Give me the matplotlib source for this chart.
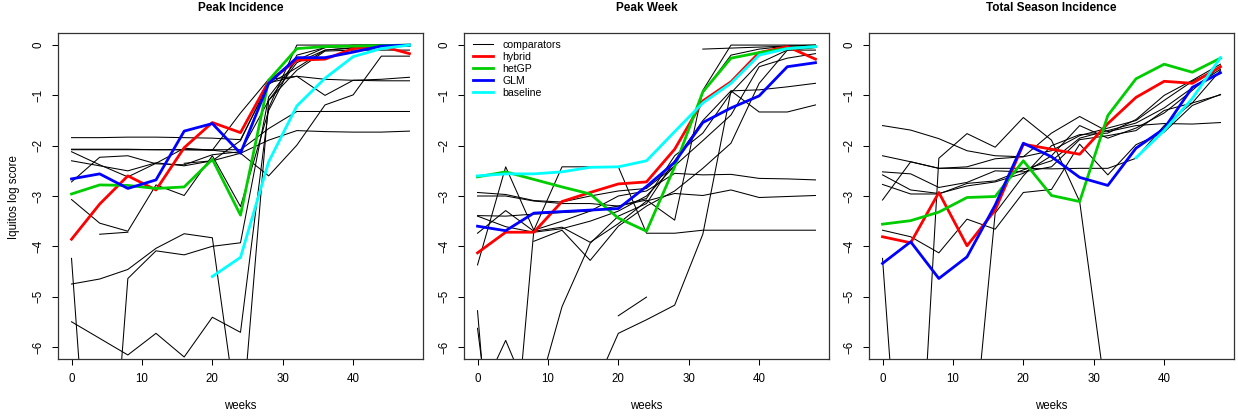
import numpy as np
import matplotlib
matplotlib.use("Agg")
import matplotlib.pyplot as plt
from matplotlib.lines import Line2D

plt.rcParams['font.family'] = ['Liberation Sans', 'DejaVu Sans']

nan = np.nan
weeks = [0, 4, 8, 12, 16, 20, 24, 28, 32, 36, 40, 44, 48]

# ---- Peak Incidence ----
pi_hybrid = [-3.86, -3.16, -2.6, -2.88, -2.04, -1.54, -1.74, -0.72, -0.3, -0.28, -0.07, -0.02, -0.17]
pi_hetgp = [-2.96, -2.78, -2.79, -2.85, -2.82, -2.27, -3.38, -0.7, -0.07, -0.03, -0.02, -0.01, 0.0]
pi_glm = [-2.66, -2.56, -2.85, -2.68, -1.71, -1.56, -2.15, -0.76, -0.25, -0.25, -0.14, -0.02, 0.0]
pi_base = [nan, nan, nan, nan, nan, -4.6, -4.22, -2.32, -1.21, -0.66, -0.23, -0.07, 0.0]
pi_comp = [
    [-1.84, -1.84, -1.83, -1.83, -1.84, -1.85, -1.88, -0.78, -0.45, -0.1, -0.06, -0.03, -0.02],
    [-2.08, -2.08, -2.08, -2.08, -2.08, -2.08, -2.08, -1.66, -1.32, -1.32, -1.32, -1.32, -1.32],
    [-2.07, -2.07, -2.07, -2.08, -2.08, -2.09, -2.15, -2.6, -1.99, -1.19, -0.99, -0.22, -0.22],
    [nan, nan, nan, nan, -2.35, -2.3, -2.15, -1.89, -1.7, -1.72, -1.73, -1.73, -1.71],
    [-2.12, -2.38, -2.62, -2.35, -2.05, -2.09, -1.35, -0.68, -0.62, -1.0, -0.7, -0.68, -0.64],
    [-2.3, -2.4, -2.5, -2.34, -2.4, -2.3, -1.9, -0.75, -0.62, -0.68, -0.7, -0.71, -0.71],
    [-2.72, -2.23, -2.2, -2.36, -2.38, -2.18, -2.12, -1.1, -0.5, -0.12, -0.1, -0.1, -0.1],
    [-3.07, -3.54, -3.7, -2.78, -2.99, -2.2, -3.21, -1.3, -0.2, -0.05, -0.02, 0.0, 0.0],
    [nan, -3.76, -3.72, nan, nan, nan, nan, nan, nan, nan, nan, nan, nan],
    [-4.24, -12.0, -4.64, -4.09, -4.17, -4.0, -3.93, -1.03, -0.3, -0.05, 0.0, 0.0, 0.0],
    [-4.75, -4.65, -4.46, -4.04, -3.75, -3.83, -7.85, -1.1, -0.35, -0.1, -0.05, -0.02, 0.0],
    [-5.5, -5.83, -6.16, -5.73, -6.2, -5.41, -5.71, -1.25, 0.0, 0.0, 0.0, 0.0, 0.0],
]

# ---- Peak Week ----
pw_hybrid = [-4.13, -3.72, -3.72, -3.11, -2.93, -2.76, -2.72, -2.07, -1.11, -0.73, -0.15, -0.03, -0.28]
pw_hetgp = [-2.62, -2.52, -2.67, -2.82, -2.96, -3.44, -3.7, -2.42, -0.93, -0.26, -0.15, -0.07, -0.03]
pw_glm = [-3.6, -3.69, -3.34, -3.31, -3.28, -3.25, -2.81, -2.33, -1.54, -1.25, -1.01, -0.43, -0.35]
pw_base = [-2.6, -2.56, -2.56, -2.52, -2.43, -2.42, -2.3, -1.72, -1.15, -0.76, -0.2, -0.07, -0.03]
pw_comp = [
    [-5.63, -10.0, -3.68, -2.42, -2.42, -2.42, -3.74, -3.74, -3.68, -3.68, -3.68, -3.68, -3.68],
    [-7.07, -5.87, -7.2, -5.2, -3.94, -3.4, -3.15, -2.3, -1.5, -0.91, -0.89, -0.83, -0.76],
    [-5.28, -12.0, -12.0, -12.0, -7.0, -5.73, -5.46, -5.17, -3.76, -0.91, -1.33, -1.33, -1.19],
    [-4.37, -2.42, -3.68, -3.5, -3.3, -3.0, -2.9, -2.55, -2.58, -2.57, -2.65, -2.66, -2.68],
    [-3.74, -3.29, -3.7, -3.62, -3.92, -3.55, -3.1, -2.95, -2.99, -2.88, -3.03, -3.01, -2.99],
    [-3.0, -3.0, -3.1, -3.15, -3.15, -3.2, -3.08, -3.48, -0.9, 0.0, 0.0, 0.0, 0.0],
    [-2.93, -2.97, -3.09, -3.12, -3.0, -2.9, -2.85, -2.4, -0.95, -0.2, -0.08, -0.02, 0.0],
    [-3.4, -3.61, -3.72, -3.65, -3.5, -3.3, -3.0, -2.4, -1.9, -1.39, -0.43, -0.26, -0.17],
    [nan, nan, -3.9, -3.68, -4.28, -3.6, -3.2, -2.9, -2.45, -1.95, -0.76, -0.1, -0.05],
    [-3.39, -3.4, -3.36, -3.33, -3.3, -3.2, -3.05, -2.2, -1.75, -0.95, -0.36, -0.1, -0.1],
    [nan, nan, nan, nan, nan, -5.38, -5.01, nan, nan, nan, nan, nan, nan],
    [nan, nan, nan, nan, nan, nan, nan, nan, -0.08, -0.06, -0.04, -0.02, -0.02],
]

# ---- Total Season Incidence ----
ts_hybrid = [-3.81, -3.93, -2.93, -3.99, -3.28, -1.97, -2.07, -2.17, -1.56, -1.04, -0.72, -0.76, -0.43]
ts_hetgp = [-3.56, -3.49, -3.32, -3.03, -3.01, -2.3, -2.99, -3.11, -1.4, -0.67, -0.38, -0.54, -0.26]
ts_glm = [-4.34, -3.91, -4.64, -4.21, -3.18, -1.95, -2.22, -2.63, -2.79, -2.05, -1.66, -0.84, -0.55]
ts_base = [nan, nan, nan, nan, nan, nan, nan, nan, nan, -2.24, -1.7, -1.06, -0.25]
ts_comp = [
    [-1.6, -1.69, -1.86, -2.1, -2.2, -2.22, -1.75, -1.42, -1.72, -1.6, -1.56, -1.57, -1.54],
    [-2.2, -2.32, -2.45, -2.42, -2.26, -2.22, -2.1, -1.8, -1.65, -1.5, -1.1, -0.72, -0.45],
    [-2.52, -2.56, -2.83, -2.73, -2.5, -2.52, -2.42, -1.88, -1.8, -1.7, -1.3, -1.15, -0.99],
    [-3.08, -2.32, -2.45, -2.45, -2.45, -2.45, -2.46, -2.45, -2.45, -2.25, -1.6, -1.15, -0.5],
    [-3.68, -3.81, -4.13, -3.46, -3.66, -2.93, -2.87, -1.97, -2.58, -1.98, -1.73, -1.2, -0.98],
    [-4.24, -12.0, -2.25, -1.76, -2.03, -1.44, -1.89, -3.11, -7.24, nan, nan, nan, nan],
    [-2.58, -2.88, -2.95, -2.8, -2.72, -2.55, -2.2, -1.6, -1.85, -1.65, -1.35, -0.9, -0.42],
    [nan, nan, nan, -9.2, -3.34, -2.6, -2.0, -1.78, -1.75, -1.48, -1.0, -0.7, -0.38],
    [-2.77, -2.96, -2.96, -2.75, -2.7, -2.48, -2.3, -1.85, -1.7, -1.55, -1.25, -0.85, -0.48],
]

panels = [
    ("Peak Incidence", pi_comp, pi_hybrid, pi_hetgp, pi_glm, pi_base),
    ("Peak Week", pw_comp, pw_hybrid, pw_hetgp, pw_glm, pw_base),
    ("Total Season Incidence", ts_comp, ts_hybrid, ts_hetgp, ts_glm, ts_base),
]

W, H = 1238, 416
lefts = [58, 464, 869]
fig = plt.figure(figsize=(W / 100, H / 100), dpi=100)

for i, (title, comp, hyb, het, glm, base) in enumerate(panels):
    ax = fig.add_axes([lefts[i] / W, 1 - 359 / H, 365 / W, 326 / H])
    for c in comp:
        ax.plot(weeks, c, color='black', lw=0.75)
    ax.plot(weeks, hyb, color='#FF0000', lw=2, label='hybrid')
    ax.plot(weeks, het, color='#00CD00', lw=2, label='hetGP')
    ax.plot(weeks, glm, color='#0000FF', lw=2, label='GLM')
    ax.plot(weeks, base, color='#00FFFF', lw=2, label='baseline')
    ax.set_xlim(-1.92, 49.92)
    ax.set_ylim(-6.24, 0.24)
    ax.set_xticks([0, 10, 20, 30, 40])
    ax.set_yticks([0, -1, -2, -3, -4, -5, -6])
    ax.tick_params(direction='out', length=4, width=0.75, labelsize=8.3, pad=6)
    for lab in ax.get_yticklabels():
        lab.set_rotation(90)
        lab.set_va('center')
    for s in ax.spines.values():
        s.set_linewidth(0.9)
        s.set_color('#333333')
    ax.set_title(title, fontsize=8.5, fontweight='bold', pad=16)
    ax.set_xlabel('weeks', fontsize=8.3)
    ax.xaxis.set_label_coords(0.5, -0.125)
    if i == 1:
        handles = [Line2D([], [], color='black', lw=0.75)] + ax.get_lines()[-4:]
        ax.legend(handles, ['comparators', 'hybrid', 'hetGP', 'GLM', 'baseline'],
                  loc='upper left', bbox_to_anchor=(0.0256, 0.98), frameon=False,
                  fontsize=7.6, handlelength=1.9, handletextpad=0.85,
                  labelspacing=0.2, borderpad=0, borderaxespad=0)

fig.text(14 / W, 1 - 197 / H, 'Iquitos log score', rotation=90,
         ha='center', va='center', fontsize=8.3)

fig.savefig('out.png', dpi=100)
